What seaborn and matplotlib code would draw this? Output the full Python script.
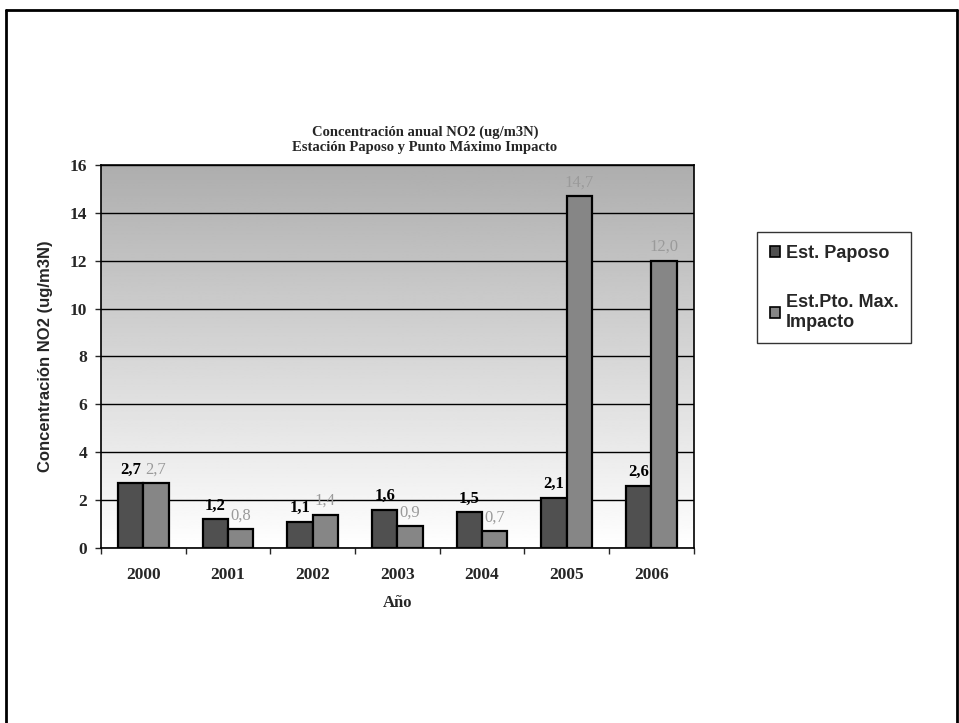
import numpy as np
import pandas as pd
import seaborn as sns
import matplotlib.pyplot as plt
from matplotlib.lines import Line2D
from matplotlib.patches import Patch

years = ['2000', '2001', '2002', '2003', '2004', '2005', '2006']
paposo = [2.7, 1.2, 1.1, 1.6, 1.5, 2.1, 2.6]
max_impacto = [2.7, 0.8, 1.4, 0.9, 0.7, 14.7, 12.0]
series_names = ['Est. Paposo', 'Est.Pto. Max.\nImpacto']

df = pd.DataFrame({
    'Año': years * 2,
    'valor': paposo + max_impacto,
    'serie': [series_names[0]] * len(years) + [series_names[1]] * len(years),
})

sns.set_style('white')
serif = ['Liberation Serif', 'DejaVu Serif']
sans = ['Liberation Sans', 'DejaVu Sans']

fig = plt.figure(figsize=(9.59, 7.23), dpi=100)
ax = fig.add_axes([0.1053, 0.242, 0.618, 0.530])

# fondo gris degradado, mas oscuro arriba
grad = np.linspace(1.0, 0.68, 256).reshape(-1, 1)
ax.imshow(grad, aspect='auto', cmap='gray', vmin=0, vmax=1, origin='lower',
          extent=[-0.5, 6.5, 0, 16], zorder=0)

cols = ['#505050', '#868686']
sns.barplot(data=df, x='Año', y='valor', hue='serie', palette=cols,
            width=0.6, edgecolor='black', linewidth=1.6, ax=ax,
            legend=False, zorder=3)

ax.set_xlim(-0.5, 6.5)
ax.set_ylim(0, 16)
ax.set_yticks(range(0, 17, 2))
ax.yaxis.grid(True, color='black', linewidth=1.0, zorder=1)
ax.set_axisbelow(True)
for s in ax.spines.values():
    s.set_color('black')
    s.set_linewidth(1.2)

ax.tick_params(axis='y', direction='out', length=4, width=1, left=True, pad=6)
ax.tick_params(axis='x', direction='out', length=0, pad=14)
for t in ax.get_yticklabels() + ax.get_xticklabels():
    t.set_fontfamily(serif)
    t.set_fontweight('bold')
    t.set_fontsize(12.5)
ax.set_xticks(np.arange(-0.5, 7, 1), minor=True)
ax.tick_params(axis='x', which='minor', direction='out', length=4, width=1, bottom=True)

ax.set_xlabel('Año', fontfamily=serif, fontweight='bold', fontsize=12, labelpad=8)
ax.set_ylabel('Concentración NO2 (ug/m3N)', fontfamily=sans, fontweight='bold',
              fontsize=12, labelpad=12)

# etiquetas de valores
lab_colors = ['black', '#9a9a9a']
for cont, c in zip(ax.containers, lab_colors):
    labels = [f'{v:.1f}'.replace('.', ',') for v in cont.datavalues]
    ax.bar_label(cont, labels=labels, padding=4, color=c, fontsize=12,
                 fontfamily=serif, fontweight='bold' if c == 'black' else 'normal')

fig.text(0.443, 0.807, 'Concentración anual NO2 (ug/m3N)\nEstación Paposo y Punto Máximo Impacto',
         ha='center', va='center', fontfamily=serif, fontweight='bold', fontsize=10.5,
         linespacing=1.2)

# leyenda
handles = [Patch(facecolor=c, edgecolor='black', linewidth=1.2) for c in cols]
leg = fig.legend(handles, series_names, loc='upper left',
                 bbox_to_anchor=(757 / 959, 1 - 232 / 723), frameon=True,
                 prop={'family': sans, 'weight': 'bold', 'size': 13},
                 handlelength=0.6, handleheight=0.6, handletextpad=0.3,
                 labelspacing=1.8, borderpad=0.7, borderaxespad=0, fancybox=False,
                 edgecolor='black')
leg.get_frame().set_linewidth(1.0)

# marco exterior
fig.add_artist(Line2D([6 / 959, 6 / 959], [0, 1 - 10 / 723], transform=fig.transFigure,
                      color='black', linewidth=2))
fig.add_artist(Line2D([6 / 959, 957 / 959], [1 - 10 / 723, 1 - 10 / 723],
                      transform=fig.transFigure, color='black', linewidth=2))
fig.add_artist(Line2D([957 / 959, 957 / 959], [0, 1 - 10 / 723], transform=fig.transFigure,
                      color='black', linewidth=2))

fig.savefig('out.png', dpi=100)
